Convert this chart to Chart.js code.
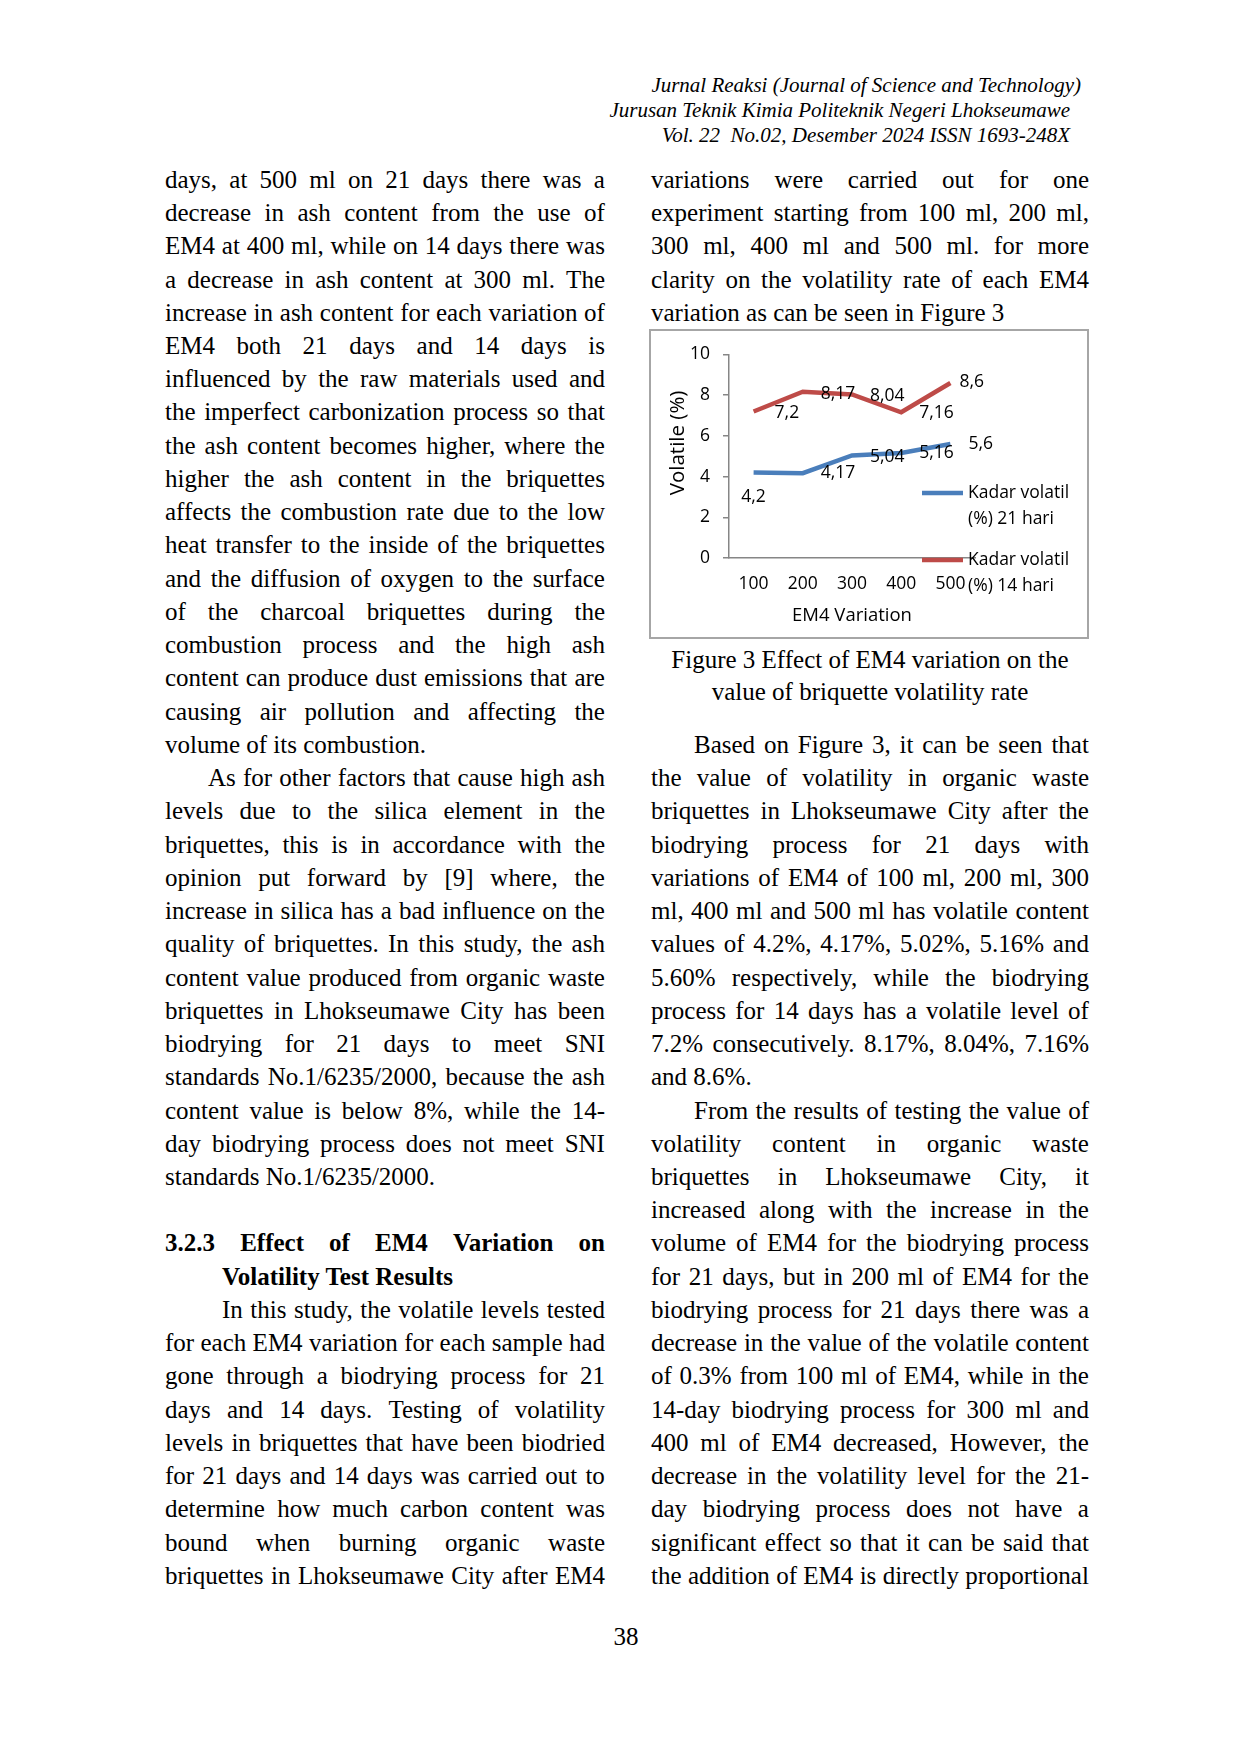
<!DOCTYPE html>
<html><head><meta charset="utf-8">
<script src="https://cdn.jsdelivr.net/npm/chart.js@4.4.1/dist/chart.umd.min.js"></script>
<style>
html,body{margin:0;padding:0;background:#fff;}
#page{position:relative;width:1241px;height:1753px;overflow:hidden;font-family:"Liberation Serif","Times New Roman",serif;color:#000;}
.ln{position:absolute;height:33.24px;line-height:33.24px;font-size:25px;white-space:pre;}
.j{display:flex;justify-content:space-between;}
.hd{position:absolute;font-style:italic;font-size:21px;line-height:24px;white-space:pre;}
.cap{position:absolute;left:651px;width:438px;text-align:center;font-size:25px;line-height:32px;height:32px;}
#box{position:absolute;left:649px;top:329px;width:440px;height:310px;border:2px solid #a6a6a6;box-sizing:border-box;}
#cw{position:absolute;left:0;top:0;width:436px;height:305px;}
#pn{position:absolute;left:596px;width:60px;text-align:center;top:1620px;font-size:25px;line-height:33px;}
</style></head>
<body><div id="page">
<div class="hd" style="right:160px;top:73px;">Jurnal Reaksi (Journal of Science and Technology)</div>
<div class="hd" style="right:171px;top:98px;">Jurusan Teknik Kimia Politeknik Negeri Lhokseumawe</div>
<div class="hd" style="right:171px;top:123px;">Vol. 22  No.02, Desember 2024 ISSN 1693-248X</div>
<div id="box"><div id="cw"><canvas id="c"></canvas></div></div>
<div class="cap" style="top:644px;">Figure 3 Effect of EM4 variation on the</div>
<div class="cap" style="top:676px;">value of briquette volatility rate</div>
<div id="pn">38</div>
</div>
<script>
// ---- chart data ----
const categories = ['100', '200', '300', '400', '500'];
const volatil21 = [4.2, 4.17, 5.04, 5.16, 5.6];
const volatil14 = [7.2, 8.17, 8.04, 7.16, 8.6];
const seriesNames = ['Kadar volatil (%) 21 hari', 'Kadar volatil (%) 14 hari'];
const xTitle = 'EM4 Variation';
const yTitle = 'Volatile (%)';

// ---- page text (one entry per printed line; flags: e = paragraph end, i = indent, h = heading indent, b = bold) ----
const leftLines = [
 ['days, at 500 ml on 21 days there was a',''],
 ['decrease in ash content from the use of',''],
 ['EM4 at 400 ml, while on 14 days there was',''],
 ['a decrease in ash content at 300 ml. The',''],
 ['increase in ash content for each variation of',''],
 ['EM4 both 21 days and 14 days is',''],
 ['influenced by the raw materials used and',''],
 ['the imperfect carbonization process so that',''],
 ['the ash content becomes higher, where the',''],
 ['higher the ash content in the briquettes',''],
 ['affects the combustion rate due to the low',''],
 ['heat transfer to the inside of the briquettes',''],
 ['and the diffusion of oxygen to the surface',''],
 ['of the charcoal briquettes during the',''],
 ['combustion process and the high ash',''],
 ['content can produce dust emissions that are',''],
 ['causing air pollution and affecting the',''],
 ['volume of its combustion.','e'],
 ['As for other factors that cause high ash','i'],
 ['levels due to the silica element in the',''],
 ['briquettes, this is in accordance with the',''],
 ['opinion put forward by [9] where, the',''],
 ['increase in silica has a bad influence on the',''],
 ['quality of briquettes. In this study, the ash',''],
 ['content value produced from organic waste',''],
 ['briquettes in Lhokseumawe City has been',''],
 ['biodrying for 21 days to meet SNI',''],
 ['standards No.1/6235/2000, because the ash',''],
 ['content value is below 8%, while the 14-',''],
 ['day biodrying process does not meet SNI',''],
 ['standards No.1/6235/2000.','e'],
 null,
 ['3.2.3 Effect of EM4 Variation on','b'],
 ['Volatility Test Results','bhe'],
 ['In this study, the volatile levels tested','h'],
 ['for each EM4 variation for each sample had',''],
 ['gone through a biodrying process for 21',''],
 ['days and 14 days. Testing of volatility',''],
 ['levels in briquettes that have been biodried',''],
 ['for 21 days and 14 days was carried out to',''],
 ['determine how much carbon content was',''],
 ['bound when burning organic waste',''],
 ['briquettes in Lhokseumawe City after EM4','']
];
const rightLines = [
 ['variations were carried out for one',''],
 ['experiment starting from 100 ml, 200 ml,',''],
 ['300 ml, 400 ml and 500 ml. for more',''],
 ['clarity on the volatility rate of each EM4',''],
 ['variation as can be seen in Figure 3','e'],
 null,null,null,null,null,null,null,null,null,null,null,null,
 ['Based on Figure 3, it can be seen that','i'],
 ['the value of volatility in organic waste',''],
 ['briquettes in Lhokseumawe City after the',''],
 ['biodrying process for 21 days with',''],
 ['variations of EM4 of 100 ml, 200 ml, 300',''],
 ['ml, 400 ml and 500 ml has volatile content',''],
 ['values of 4.2%, 4.17%, 5.02%, 5.16% and',''],
 ['5.60% respectively, while the biodrying',''],
 ['process for 14 days has a volatile level of',''],
 ['7.2% consecutively. 8.17%, 8.04%, 7.16%',''],
 ['and 8.6%.','e'],
 ['From the results of testing the value of','i'],
 ['volatility content in organic waste',''],
 ['briquettes in Lhokseumawe City, it',''],
 ['increased along with the increase in the',''],
 ['volume of EM4 for the biodrying process',''],
 ['for 21 days, but in 200 ml of EM4 for the',''],
 ['biodrying process for 21 days there was a',''],
 ['decrease in the value of the volatile content',''],
 ['of 0.3% from 100 ml of EM4, while in the',''],
 ['14-day biodrying process for 300 ml and',''],
 ['400 ml of EM4 decreased, However, the',''],
 ['decrease in the volatility level for the 21-',''],
 ['day biodrying process does not have a',''],
 ['significant effect so that it can be said that',''],
 ['the addition of EM4 is directly proportional','']
];

const page = document.getElementById('page');
function placeColumn(x, w, lines){
  lines.forEach((L, i) => {
    if (!L) return;
    const [t, f] = L;
    const d = document.createElement('div');
    d.className = 'ln';
    const ind = f.includes('i') ? 43 : (f.includes('h') ? 57 : 0);
    d.style.left = (x + ind) + 'px';
    d.style.width = (w - ind) + 'px';
    d.style.top = (179.4 + i * 33.24 - 16.62) + 'px';
    if (f.includes('b')) d.style.fontWeight = 'bold';
    if (f.includes('e')) {
      d.textContent = t;
    } else {
      d.classList.add('j');
      t.split(/ +/).forEach(wd => {
        const s = document.createElement('span');
        s.textContent = wd;
        d.appendChild(s);
      });
    }
    page.appendChild(d);
  });
}
placeColumn(165, 440, leftLines);
placeColumn(651, 438, rightLines);

// ---- chart ----
const FONT_FAMILY = '"Open Sans", "Noto Sans", sans-serif';
const FS = 17.5;
const valueLabels = {
  id: 'valueLabels',
  afterDatasetsDraw(chart, args, opts) {
    const c = chart.ctx;
    c.save();
    c.font = FS + 'px ' + FONT_FAMILY;
    c.fillStyle = '#000';
    c.textBaseline = 'middle';
    chart.data.datasets.forEach((ds, di) => {
      chart.getDatasetMeta(di).data.forEach((pt, pi) => {
        const p = opts.placement[di][pi];
        const txt = String(ds.data[pi]).replace('.', ',');
        c.textAlign = p[0] === 'below' ? 'center' : 'left';
        c.fillText(txt, pt.x + p[1], pt.y + p[2]);
      });
    });
    c.restore();
  }
};
const sideLegend = {
  id: 'sideLegend',
  afterDraw(chart, args, opts) {
    const c = chart.ctx;
    c.save();
    chart.data.datasets.forEach((ds, i) => {
      const y = opts.y[i];
      c.strokeStyle = ds.borderColor;
      c.lineWidth = ds.borderWidth;
      c.beginPath(); c.moveTo(opts.x0, y); c.lineTo(opts.x1, y); c.stroke();
      c.font = FS + 'px ' + FONT_FAMILY;
      c.fillStyle = '#000';
      c.textAlign = 'left';
      c.textBaseline = 'middle';
      ds.label.replace(' (', '\n(').split('\n').forEach((s, k) => {
        c.fillText(s, opts.tx, y + k * opts.lh);
      });
    });
    c.restore();
  }
};

new Chart(document.getElementById('c'), {
  type: 'line',
  data: {
    labels: categories,
    datasets: [
      { label: seriesNames[0], data: volatil21, borderColor: '#4A7EBB', backgroundColor: '#4A7EBB', borderWidth: 4.5, pointRadius: 0, tension: 0, fill: false },
      { label: seriesNames[1], data: volatil14, borderColor: '#BE4B48', backgroundColor: '#BE4B48', borderWidth: 4.5, pointRadius: 0, tension: 0, fill: false }
    ]
  },
  options: {
    responsive: true,
    maintainAspectRatio: false,
    animation: false,
    layout: { padding: { top: 23, right: 112, bottom: 0, left: 0 } },
    plugins: {
      legend: { display: false },
      tooltip: { enabled: false },
      valueLabels: {
        placement: [
          [['below', 0, 24], ['right', 18, 0], ['right', 18, 2], ['right', 18, 0], ['right', 18, 0]],
          [['right', 21, 2], ['right', 18, 2], ['right', 18, 2], ['right', 18, 1], ['right', 9, -1]]
        ]
      },
      sideLegend: { x0: 271, x1: 312, tx: 317, y: [162, 229], lh: 26 }
    },
    scales: {
      x: {
        type: 'category',
        offset: true,
        grid: { display: false, drawTicks: false },
        border: { display: true, color: '#868686', width: 1.5 },
        ticks: { color: '#000', font: { family: FONT_FAMILY, size: FS }, padding: 16, maxRotation: 0 },
        title: { display: true, text: xTitle, color: '#000', font: { family: FONT_FAMILY, size: 18.5 }, padding: { top: 0, bottom: 9 } },
        afterFit: s => { s.height = 78; }
      },
      y: {
        min: 0, max: 10,
        ticks: { stepSize: 2, color: '#000', font: { family: FONT_FAMILY, size: FS }, padding: 13 },
        grid: { display: true, drawOnChartArea: false, drawTicks: true, tickLength: 6, color: '#868686', lineWidth: 1.5 },
        border: { display: true, color: '#868686', width: 1.5 },
        title: { display: true, text: '\u00a0\u00a0\u00a0\u00a0\u00a0' + yTitle, color: '#000', font: { family: FONT_FAMILY, size: 20.5 }, padding: { top: 15, bottom: 0 } },
        afterFit: s => { s.width = 78; }
      }
    }
  },
  plugins: [valueLabels, sideLegend]
});
</script>
</body></html>
